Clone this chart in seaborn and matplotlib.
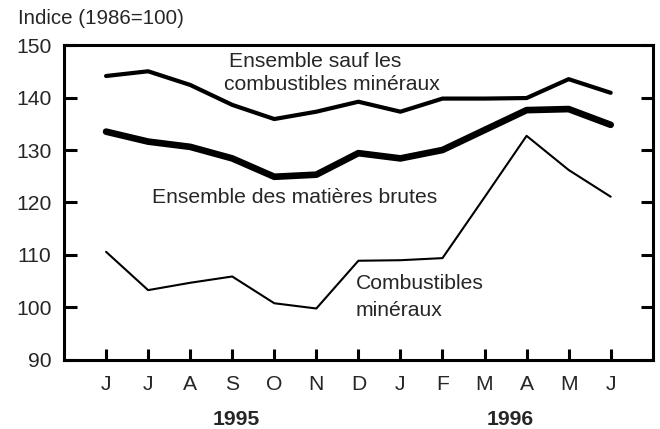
import numpy as np
import pandas as pd
import matplotlib
matplotlib.use("Agg")
import matplotlib.pyplot as plt
import seaborn as sns

# Months June 1995 -> June 1996
months = ["J", "J", "A", "S", "O", "N", "D", "J", "F", "M", "A", "M", "J"]

# Index values (1986=100)
sauf_combustibles = [144.1, 145.0, 142.4, 138.6, 135.9, 137.3, 139.2, 137.3, 139.8, 139.8, 139.9, 143.5, 140.9]
matieres_brutes = [133.5, 131.6, 130.6, 128.4, 124.9, 125.3, 129.4, 128.4, 130.0, 133.8, 137.6, 137.8, 134.8]
combustibles = [110.6, 103.3, 104.7, 105.9, 100.8, 99.8, 108.9, 109.0, 109.4, 121.0, 132.7, 126.2, 121.1]

yticks = [90, 100, 110, 120, 130, 140, 150]

sns.set_style("ticks")
plt.rcParams['font.family'] = ['Liberation Sans', 'DejaVu Sans']

df = pd.DataFrame({
    "idx": np.arange(len(months)),
    "sauf": sauf_combustibles,
    "brutes": matieres_brutes,
    "comb": combustibles,
})

fig = plt.figure(figsize=(6.6, 4.29), dpi=100)
ax = fig.add_axes([0.097, 0.161, 0.892, 0.734])

sns.lineplot(data=df, x="idx", y="sauf", color="black", linewidth=3.0, ax=ax)
sns.lineplot(data=df, x="idx", y="brutes", color="black", linewidth=4.8, ax=ax)
sns.lineplot(data=df, x="idx", y="comb", color="black", linewidth=1.5, ax=ax)

ax.set_xlim(-1, 13)
ax.set_ylim(90, 150)
ax.set_xlabel("")
ax.set_ylabel("")

fs = 15.2
ax.set_xticks(df["idx"])
ax.set_xticklabels(months, fontsize=fs)
ax.set_yticks(yticks)
ax.set_yticklabels([str(v) for v in yticks], fontsize=fs)
ax.tick_params(axis="x", direction="in", length=8, width=2.2, pad=11, color="black")
ax.tick_params(axis="y", direction="in", length=9, width=2.2, pad=9, right=True, color="black")
# longer tick marking the year change
ax.set_xticks([7], minor=True)
ax.tick_params(axis="x", which="minor", direction="in", length=23, width=2.2)

for s in ax.spines.values():
    s.set_linewidth(2.2)
    s.set_color("black")
    s.set_visible(True)

# Series labels
ax.text(2.93, 146.8, "Ensemble sauf les", fontsize=fs, va="center", ha="left")
ax.text(2.8, 142.4, "combustibles minéraux", fontsize=fs, va="center", ha="left")
ax.text(1.09, 120.9, "Ensemble des matières brutes", fontsize=fs, va="center", ha="left")
ax.text(5.93, 104.5, "Combustibles", fontsize=fs, va="center", ha="left")
ax.text(5.93, 99.5, "minéraux", fontsize=fs, va="center", ha="left")

# Year labels
xt = ax.get_xaxis_transform()
ax.text(3.09, -0.19, "1995", fontsize=fs, fontweight="bold", ha="center", va="center", transform=xt)
ax.text(9.62, -0.19, "1996", fontsize=fs, fontweight="bold", ha="center", va="center", transform=xt)

fig.text(0.027, 0.958, "Indice (1986=100)", fontsize=14.8, ha="left", va="center")

fig.savefig("out.png", dpi=100)
